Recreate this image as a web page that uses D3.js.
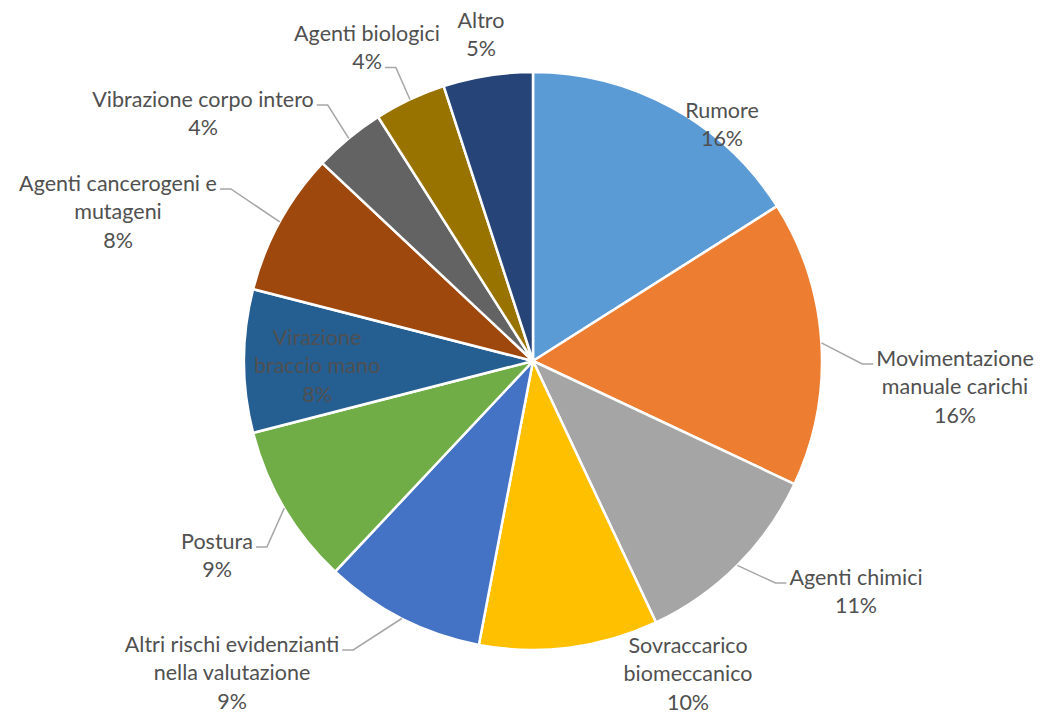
<!DOCTYPE html>
<html lang="it">
<head>
<meta charset="UTF-8">
<title>Rischi</title>
<script src="https://d3js.org/d3.v7.min.js"></script>
<style>
  body { margin: 0; background: #fff; }
  text { font-family: Lato, "Liberation Sans", sans-serif; }
</style>
</head>
<body>
<svg width="1041" height="715"></svg>
<script>
// categories and values (percent), clockwise from 12 o'clock
const categories = [
    ["Rumore"],
    ["Movimentazione", "manuale carichi"],
    ["Agenti chimici"],
    ["Sovraccarico", "biomeccanico"],
    ["Altri rischi evidenzianti", "nella valutazione"],
    ["Postura"],
    ["Virazione", "braccio mano"],
    ["Agenti cancerogeni e", "mutageni"],
    ["Vibrazione corpo intero"],
    ["Agenti biologici"],
    ["Altro"]
];
const values = [16, 16, 11, 10, 9, 9, 8, 8, 4, 4, 5];
const colors = ["#5B9BD5", "#ED7D31", "#A5A5A5", "#FFC000", "#4472C4", "#70AD47",
                "#255E91", "#9E480E", "#636363", "#997300", "#264478"];

// label placement: centre of first line relative to pie centre,
// leader: side of text it attaches to and which line (null = no leader)
const labelLayout = [
    { dx: 189, dy: -251, leader: null },
    { dx: 422, dy: -3, leader: { side: "left", line: 0 } },
    { dx: 323, dy: 216, leader: { side: "left", line: 0 } },
    { dx: 155, dy: 284, leader: null },
    { dx: -301, dy: 283, leader: { side: "right", line: 0 } },
    { dx: -316, dy: 180, leader: { side: "right", line: 0 } },
    { dx: -216, dy: -24, leader: null },
    { dx: -415, dy: -178, leader: { side: "right", line: 0 } },
    { dx: -330, dy: -262, leader: { side: "right", line: 0 } },
    { dx: -166, dy: -328, leader: { side: "right", line: 1 } },
    { dx: -52, dy: -341, leader: null }
];

const svg = d3.select("svg");
const cx = 533, cy = 361, r = 289;
const lineH = 28.5;
const fontSize = 21.5;

const total = d3.sum(values);
const data = values.map((v, i) => ({ value: v, lines: categories[i], color: colors[i], layout: labelLayout[i] }));

const pie = d3.pie().value(d => d.value).sort(null);
const arc = d3.arc().innerRadius(0).outerRadius(r);
const edgeArc = d3.arc().innerRadius(r).outerRadius(r);

const g = svg.append("g").attr("transform", `translate(${cx},${cy})`);
const arcs = pie(data);

g.selectAll("path.slice")
    .data(arcs)
    .enter()
    .append("path")
        .attr("class", "slice")
        .attr("d", arc)
        .attr("fill", d => d.data.color)
        .attr("stroke", "#fff")
        .attr("stroke-width", 2.5)
        .attr("stroke-linejoin", "round");

const leaders = g.append("g");
const labels = g.append("g");

arcs.forEach(a => {
    const L = a.data.layout;
    const pct = Math.round(a.data.value / total * 100) + "%";
    const lines = a.data.lines.concat([pct]);
    const t = labels.append("text")
        .attr("text-anchor", "middle")
        .attr("font-size", fontSize)
        .attr("fill", "#505050");
    lines.forEach((s, k) => {
        t.append("tspan")
            .attr("x", L.dx)
            .attr("y", L.dy + k * lineH)
            .attr("dy", "0.35em")
            .text(s);
    });
    if (L.leader) {
        const tspans = t.selectAll("tspan").nodes();
        const w = tspans[L.leader.line].getComputedTextLength();
        const ly = L.dy + L.leader.line * lineH + 6;
        const sgn = L.leader.side === "left" ? -1 : 1;
        const ax = L.dx + sgn * (w / 2 + 3);
        const bx = ax + sgn * 11;
        const p = edgeArc.centroid(a);
        leaders.append("polyline")
            .attr("points", `${ax},${ly} ${bx},${ly} ${p[0]},${p[1]}`)
            .attr("fill", "none")
            .attr("stroke", "#A6A6A6")
            .attr("stroke-width", 1.5);
    }
});
</script>
</body>
</html>
